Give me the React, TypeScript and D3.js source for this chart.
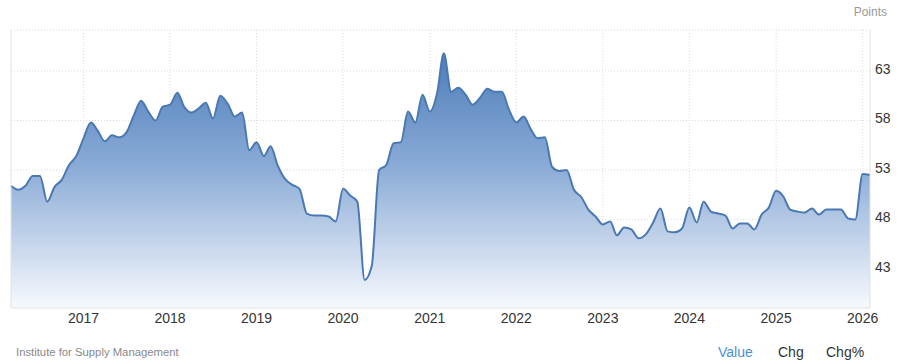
import React from "react";
import * as d3 from "d3";

// ISM Manufacturing PMI, monthly, starting March 2016
const startMonth = new Date(2016, 2, 1);
const values2016 = [51.4, 51.0, 51.4, 52.4, 52.4, 49.8, 51.3, 52.0, 53.5, 54.4];
const values2017 = [56.2, 57.8, 57.0, 55.9, 56.5, 56.3, 56.8, 58.5, 60.0, 58.9, 58.0, 59.4];
const values2018 = [59.6, 60.8, 59.4, 58.8, 59.2, 59.8, 58.2, 60.5, 59.7, 58.4, 58.8, 55.0];
const values2019 = [55.8, 54.4, 55.4, 53.4, 52.1, 51.5, 51.1, 48.6, 48.4, 48.4, 48.3, 47.8];
const values2020 = [51.1, 50.4, 49.8, 41.9, 43.3, 53.0, 53.5, 55.7, 55.8, 58.9, 57.8, 60.6];
const values2021 = [58.9, 60.8, 64.8, 60.9, 61.3, 60.6, 59.6, 60.3, 61.2, 60.9, 60.9, 59.1];
const values2022 = [57.8, 58.4, 57.2, 56.2, 56.3, 53.3, 52.9, 53.0, 51.0, 50.3, 49.0, 48.3];
const values2023 = [47.5, 47.8, 46.4, 47.2, 47.0, 46.1, 46.5, 47.7, 49.1, 46.8, 46.7, 47.1];
const values2024 = [49.2, 47.7, 49.8, 48.8, 48.6, 48.4, 47.1, 47.6, 47.6, 47.0, 48.5, 49.2];
const values2025 = [50.9, 50.3, 49.0, 48.8, 48.7, 49.1, 48.5, 49.0, 49.0, 49.0, 48.1, 48.0];
const values2026 = [52.6, 52.5];

const yTicks = [43, 48, 53, 58, 63];
const xYears = [2017, 2018, 2019, 2020, 2021, 2022, 2023, 2024, 2025, 2026];

const allValues = [
  ...values2016, ...values2017, ...values2018, ...values2019, ...values2020,
  ...values2021, ...values2022, ...values2023, ...values2024, ...values2025, ...values2026,
];
const data = allValues.map((v, i) => ({ date: d3.timeMonth.offset(startMonth, i), value: v }));

const W = 900;
const H = 364;
const left = 11;
const right = 870;
const top = 30;
const bottom = 308;

export default function App() {
  const x = d3
    .scaleTime()
    .domain([startMonth, data[data.length - 1].date])
    .range([left, right]);
  const y = d3.scaleLinear().domain([39.06, 67.14]).range([bottom, top]);

  const line = d3
    .line<{ date: Date; value: number }>()
    .x((d) => x(d.date))
    .y((d) => y(d.value))
    .curve(d3.curveMonotoneX);
  const area = d3
    .area<{ date: Date; value: number }>()
    .x((d) => x(d.date))
    .y0(bottom)
    .y1((d) => y(d.value))
    .curve(d3.curveMonotoneX);

  const font = "'Liberation Sans', Arial, sans-serif";

  return (
    <svg
      width={W}
      height={H}
      style={{ position: "absolute", left: 0, top: 0, background: "#fff" }}
      fontFamily={font}
    >
      <defs>
        <linearGradient id="fillGrad" gradientUnits="userSpaceOnUse" x1="0" y1={top + 20} x2="0" y2={bottom}>
          <stop offset="0%" stopColor="#4c7cb9" />
          <stop offset="45%" stopColor="#8aabd6" />
          <stop offset="100%" stopColor="#f7f9fd" />
        </linearGradient>
      </defs>

      {/* horizontal grid */}
      <line x1={left} x2={right} y1={top} y2={top} stroke="#dcdcdc" strokeDasharray="1,2" />
      {yTicks.map((t) => (
        <line key={t} x1={left} x2={right} y1={y(t)} y2={y(t)} stroke="#dcdcdc" strokeDasharray="1,2" />
      ))}
      {/* vertical grid */}
      {xYears.map((yr) => (
        <line
          key={yr}
          x1={x(new Date(yr, 0, 1))}
          x2={x(new Date(yr, 0, 1))}
          y1={top}
          y2={bottom}
          stroke="#dcdcdc"
          strokeDasharray="1,2"
        />
      ))}

      <path d={area(data) || ""} fill="url(#fillGrad)" />
      <path d={line(data) || ""} fill="none" stroke="#4a78b2" strokeWidth={2} />

      {/* frame */}
      <line x1={left} x2={left} y1={top} y2={bottom} stroke="#e2e2e2" />
      <line x1={left} x2={right} y1={bottom} y2={bottom} stroke="#e2e2e2" />
      <line x1={right} x2={right} y1={top} y2={bottom} stroke="#e2e2e2" />

      {/* y labels */}
      {yTicks.map((t) => (
        <text key={t} x={875} y={y(t) + 3} fontSize={14} fill="#333">
          {t}
        </text>
      ))}
      {/* x labels */}
      {xYears.map((yr) => (
        <text key={yr} x={x(new Date(yr, 0, 1))} y={323} fontSize={14} fill="#333" textAnchor="middle">
          {yr}
        </text>
      ))}

      <text x={887} y={16} fontSize={12} fill="#999" textAnchor="end">
        Points
      </text>
      <text x={16} y={356} fontSize={11.3} fill="#888">
        Institute for Supply Management
      </text>
      <text x={718} y={357} fontSize={14} fill="#4a90d9">
        Value
      </text>
      <text x={778} y={357} fontSize={14} fill="#333">
        Chg
      </text>
      <text x={826} y={357} fontSize={14} fill="#333">
        Chg%
      </text>
    </svg>
  );
}
